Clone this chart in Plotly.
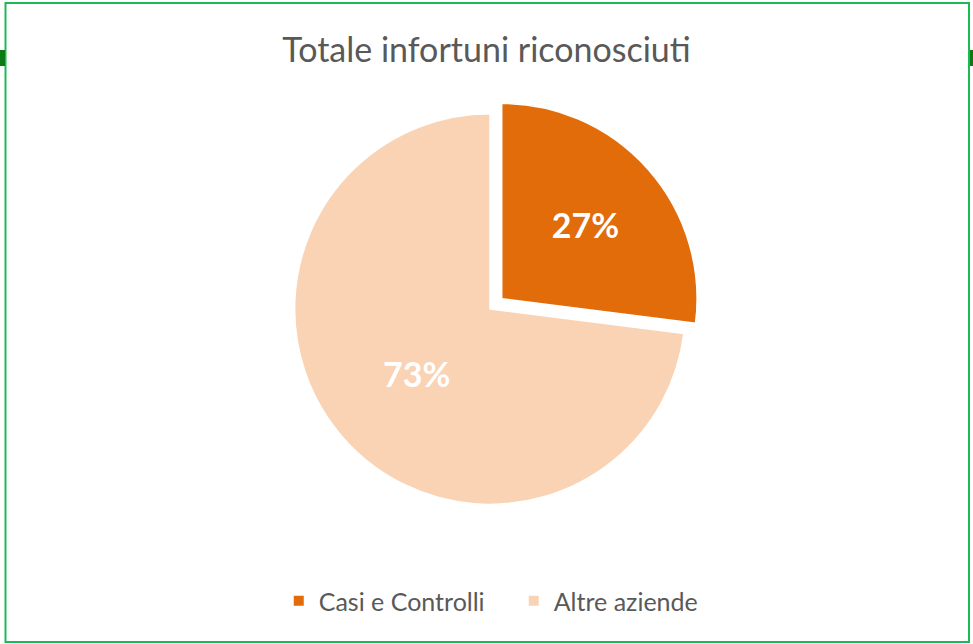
import plotly.graph_objects as go

categories = ["Casi e Controlli", "Altre aziende"]
values = [27, 73]
colors = ["#E26B0A", "#F9D3B4"]

W, H = 973, 644


def px(x):
    return x / W


def py(y):
    return 1 - y / H


fig = go.Figure()
fig.add_trace(go.Pie(
    labels=categories,
    values=values,
    sort=False,
    direction="clockwise",
    rotation=0,
    pull=[0.08, 0],
    marker=dict(colors=colors, line=dict(color="white", width=1.5)),
    textinfo="percent",
    texttemplate="<b>%{percent:.0%}</b>",
    textposition="inside",
    insidetextorientation="horizontal",
    textfont=dict(color="white", size=34, family="Lato"),
    domain=dict(x=[px(250), px(730)], y=[py(520), py(98)]),
    hoverinfo="label+percent",
))

border = "#1DB954"
fig.update_layout(
    width=W,
    height=H,
    paper_bgcolor="white",
    plot_bgcolor="white",
    margin=dict(l=0, r=0, t=0, b=0),
    title=dict(
        text="Totale infortuni riconosciuti",
        x=0.5, xanchor="center",
        y=py(50), yanchor="middle",
        font=dict(family="Lato", size=34, color="#595959"),
    ),
    legend=dict(
        orientation="h",
        x=0.528, xanchor="center",
        y=py(601), yanchor="middle",
        font=dict(family="Lato", size=25, color="#595959"),
        itemsizing="constant",
        entrywidth=190,
    ),
    shapes=[
        dict(type="rect", xref="paper", yref="paper",
             x0=px(5.5), x1=px(969), y0=py(642), y1=py(3),
             line=dict(color=border, width=2), fillcolor="rgba(0,0,0,0)"),
        dict(type="rect", xref="paper", yref="paper",
             x0=0, x1=px(5), y0=py(66), y1=py(50),
             line=dict(width=0), fillcolor="#0B7A12"),
        dict(type="rect", xref="paper", yref="paper",
             x0=px(970), x1=1, y0=py(66), y1=py(50),
             line=dict(width=0), fillcolor="#0B7A12"),
    ],
)

fig.write_html("out.html", config={"displayModeBar": False},
               post_script="document.body.style.margin='0';")
